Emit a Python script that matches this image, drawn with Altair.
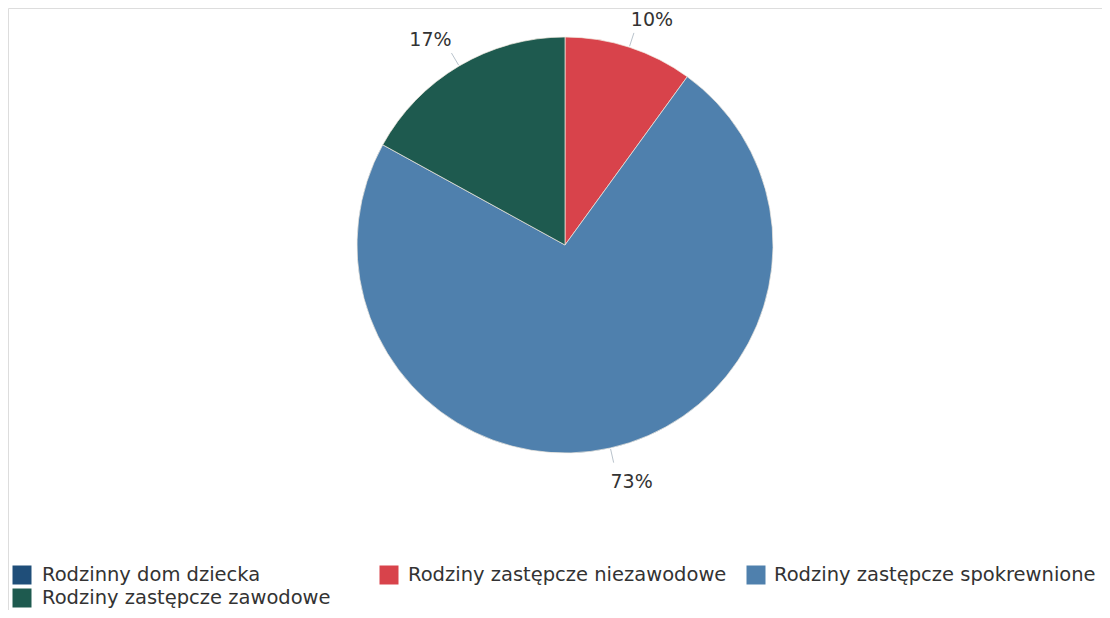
import altair as alt
import pandas as pd

categories = [
    "Rodzinny dom dziecka",
    "Rodziny zastępcze niezawodowe",
    "Rodziny zastępcze spokrewnione",
    "Rodziny zastępcze zawodowe",
]
shares = [0, 10, 73, 17]
colors = ["#1f4e79", "#d8434b", "#4f80ad", "#1e5a4f"]

df = pd.DataFrame({"category": categories, "share": shares})

CX, CY, R = 557, 237, 208
FONT = "DejaVu Sans"
TEXT_COLOR = "#333333"

color_scale = alt.Scale(domain=categories, range=colors)

base = alt.Chart(df)

pie = base.mark_arc(radius=R, stroke="#f1e9df", strokeWidth=0.7).encode(
    theta=alt.Theta("share:Q", stack=True),
    color=alt.Color("category:N", scale=color_scale, legend=None),
    order=alt.Order("category:N"),
    x=alt.value(CX),
    y=alt.value(CY),
)

geo = (
    base.transform_filter("datum.share > 0")
    .transform_window(cum="sum(share)", sort=[alt.SortField("category")], frame=[None, 0])
    .transform_joinaggregate(total="sum(share)")
    .transform_calculate(mid="2*PI*(datum.cum - datum.share/2)/datum.total")
    .transform_calculate(
        lx1=f"{CX} + {R + 1}*sin(datum.mid)",
        ly1=f"{CY} - {R + 1}*cos(datum.mid)",
        lx2=f"{CX} + {R + 15}*sin(datum.mid)",
        ly2=f"{CY} - {R + 15}*cos(datum.mid)",
    )
    .transform_calculate(
        tx="datum.lx2 + (sin(datum.mid) >= 0 ? 18 : -21)",
        ty="datum.ly2 + (cos(datum.mid) >= 0 ? -13 : 19)",
        label="datum.share + '%'",
    )
)

leaders = geo.mark_rule(color="#b9c3cc", strokeWidth=1).encode(
    x=alt.X("lx1:Q", scale=None, axis=None),
    y=alt.Y("ly1:Q", scale=None, axis=None),
    x2="lx2:Q",
    y2="ly2:Q",
)

labels = geo.mark_text(font=FONT, fontSize=19, color=TEXT_COLOR, baseline="middle", align="center").encode(
    x=alt.X("tx:Q", scale=None, axis=None),
    y=alt.Y("ty:Q", scale=None, axis=None),
    text="label:N",
)

# legend built from the same categories, laid out in a 3-column grid
leg = (
    base.transform_window(idx="row_number()")
    .transform_calculate(
        col="(datum.idx - 1) % 3",
        row="floor((datum.idx - 1) / 3)",
    )
    .transform_calculate(
        sx="14 + datum.col * 367",
        sy="567 + datum.row * 23",
        lx="34 + datum.col * 366",
    )
)

leg_sq = leg.mark_square(size=361, opacity=1).encode(
    x=alt.X("sx:Q", scale=None, axis=None),
    y=alt.Y("sy:Q", scale=None, axis=None),
    color=alt.Color("category:N", scale=color_scale, legend=None),
)

leg_txt = leg.mark_text(font=FONT, fontSize=19.5, color=TEXT_COLOR, align="left", baseline="middle").encode(
    x=alt.X("lx:Q", scale=None, axis=None),
    y=alt.Y("sy:Q", scale=None, axis=None),
    text="category:N",
)

chart = (
    alt.layer(pie, leaders, labels, leg_sq, leg_txt)
    .properties(width=1094, height=602, padding=0, autosize=alt.AutoSizeParams(type="none"))
    .configure_view(strokeWidth=0)
    .configure(background="white")
)

chart.save("out.html", embed_options={"renderer": "svg", "actions": False})
